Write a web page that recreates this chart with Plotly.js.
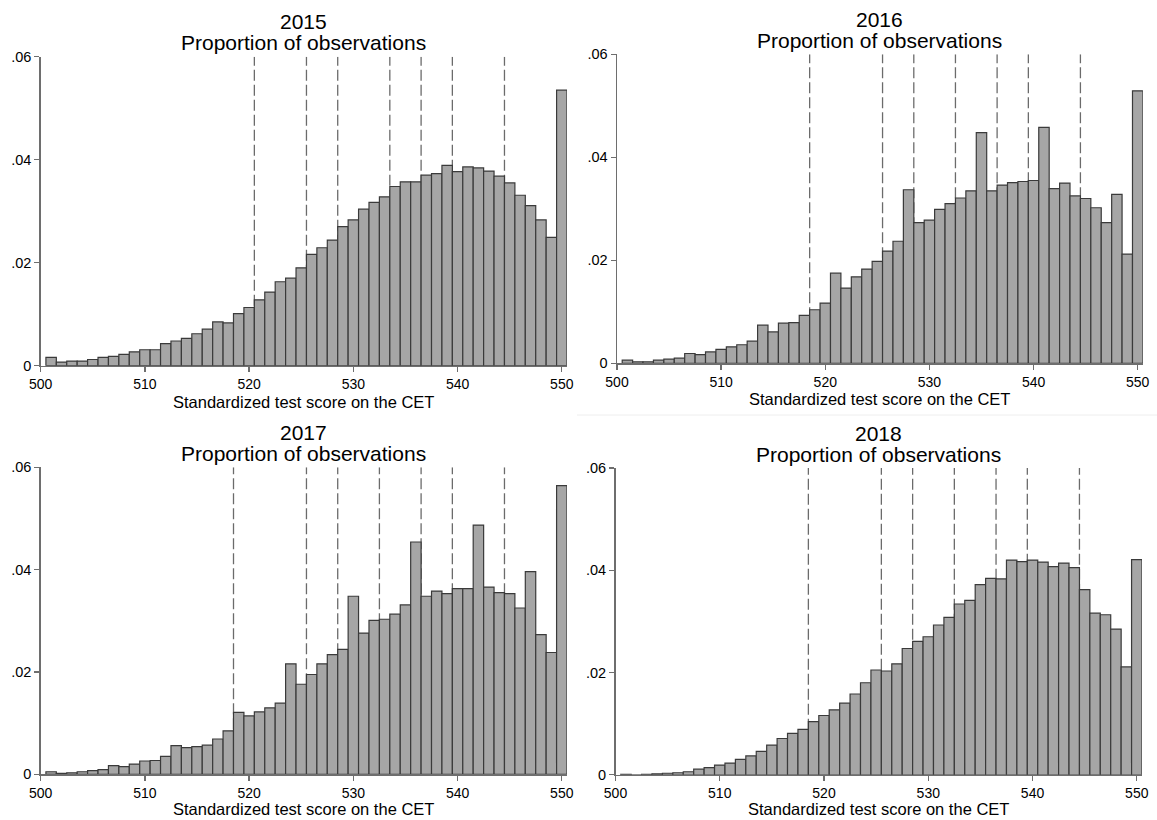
<!DOCTYPE html>
<html>
<head>
<meta charset="utf-8">
<script src="https://cdn.plot.ly/plotly-3.0.1.min.js"></script>
<style>html,body{margin:0;padding:0;background:#fff;}#chart{width:1157px;height:820px;}</style>
</head>
<body>
<div id="chart"></div>
<script>
const scores = [501,502,503,504,505,506,507,508,509,510,511,512,513,514,515,516,517,518,519,520,
                521,522,523,524,525,526,527,528,529,530,531,532,533,534,535,536,537,538,539,540,
                541,542,543,544,545,546,547,548,549,550];

const years = ["2015","2016","2017","2018"];

const share2015 = [0.0016,0.0007,0.0009,0.0009,0.0012,0.0016,0.0018,0.0022,0.0027,0.0031,
                   0.0031,0.0043,0.0048,0.0053,0.0062,0.0071,0.0085,0.0083,0.0101,0.0113,
                   0.0128,0.0143,0.0163,0.0170,0.0190,0.0216,0.0229,0.0244,0.0270,0.0283,
                   0.0304,0.0317,0.0328,0.0348,0.0357,0.0357,0.0370,0.0373,0.0389,0.0377,
                   0.0386,0.0384,0.0378,0.0368,0.0355,0.0331,0.0311,0.0283,0.0249,0.0535];

const share2016 = [0.0006,0.0003,0.0003,0.0006,0.0008,0.0010,0.0019,0.0017,0.0022,0.0027,
                   0.0032,0.0036,0.0043,0.0074,0.0061,0.0078,0.0079,0.0093,0.0104,0.0117,
                   0.0175,0.0146,0.0168,0.0183,0.0198,0.0218,0.0237,0.0337,0.0273,0.0278,
                   0.0299,0.0310,0.0321,0.0335,0.0448,0.0335,0.0346,0.0351,0.0353,0.0355,
                   0.0458,0.0339,0.0350,0.0325,0.0320,0.0302,0.0273,0.0328,0.0212,0.0529];

const share2017 = [0.0005,0.0002,0.0003,0.0005,0.0007,0.0009,0.0017,0.0015,0.0020,0.0026,
                   0.0027,0.0035,0.0056,0.0052,0.0054,0.0057,0.0069,0.0085,0.0121,0.0114,
                   0.0122,0.0130,0.0139,0.0216,0.0176,0.0195,0.0216,0.0234,0.0244,0.0348,
                   0.0276,0.0301,0.0303,0.0313,0.0331,0.0454,0.0348,0.0358,0.0353,0.0363,
                   0.0363,0.0487,0.0366,0.0355,0.0353,0.0325,0.0396,0.0273,0.0238,0.0564];

const share2018 = [0.0001,0.0000,0.0001,0.0002,0.0003,0.0004,0.0006,0.0011,0.0014,0.0019,
                   0.0023,0.0030,0.0037,0.0046,0.0058,0.0071,0.0081,0.0089,0.0104,0.0116,
                   0.0127,0.0140,0.0158,0.0180,0.0205,0.0203,0.0217,0.0247,0.0261,0.0270,
                   0.0293,0.0308,0.0334,0.0341,0.0372,0.0384,0.0383,0.0420,0.0417,0.0420,
                   0.0416,0.0407,0.0414,0.0405,0.0362,0.0316,0.0313,0.0285,0.0211,0.0421];

const cutoffs2015 = [520.5,525.5,528.5,533.5,536.5,539.5,544.5];
const cutoffs2016 = [518.5,525.5,528.5,532.5,536.5,539.5,544.5];
const cutoffs2017 = [518.5,525.5,528.5,532.5,536.5,539.5,544.5];
const cutoffs2018 = [518.5,525.5,528.5,532.5,536.5,539.5,544.5];

const xTickVals = [500,510,520,530,540,550];
const xTickText = ["500","510","520","530","540","550"];
const yTickVals = [0,0.02,0.04,0.06];
const yTickText = ["0",".02",".04",".06"];

const yTitle = "Proportion of observations";
const xTitle = "Standardized test score on the CET";

const shares = [share2015, share2016, share2017, share2018];
const cutoffs = [cutoffs2015, cutoffs2016, cutoffs2017, cutoffs2018];

// panel geometry in pixels [left, right, bottom, top, x-title centre]
const W = 1157, H = 820;
const panels = [
  [40.7, 567.0, 365.7, 56.7, 401.5],
  [617.0, 1142.9, 363.3, 54.3, 399],
  [40.7, 567.0, 774.3, 467.3, 809.3],
  [615.5, 1142.0, 774.8, 468.0, 809.3]
];

const FONT = '"Liberation Sans", Arial, Helvetica, sans-serif';
const traces = [];
const layout = {
  width: W, height: H,
  margin: {l:0, r:0, t:0, b:0},
  paper_bgcolor: '#ffffff',
  plot_bgcolor: '#ffffff',
  showlegend: false,
  bargap: 0,
  font: {family: FONT, color: '#000000'},
  annotations: [],
  shapes: [
    {type:'line', xref:'paper', yref:'paper', x0: 577/W, x1: 1, y0: 1-415/H, y1: 1-415/H,
     line:{color:'#eeeeee', width:1}}
  ]
};

for (let i = 0; i < 4; i++) {
  const sfx = i === 0 ? '' : String(i+1);
  const [l, r, b, t, xt] = panels[i];
  traces.push({
    type: 'bar',
    x: scores,
    y: shares[i],
    width: 1,
    xaxis: 'x' + sfx,
    yaxis: 'y' + sfx,
    marker: {color: '#a6a6a6', line: {color: '#3a3a3a', width: 1.2}},
    hoverinfo: 'x+y'
  });
  layout['xaxis' + sfx] = {
    domain: [l/W, r/W],
    range: [500, 550.5],
    anchor: 'y' + sfx,
    showgrid: false, zeroline: false,
    showline: true, linecolor: '#6e6e6e', linewidth: 1.5,
    ticks: 'outside', ticklen: 5, tickwidth: 1.3, tickcolor: '#6e6e6e',
    tickmode: 'array', tickvals: xTickVals, ticktext: xTickText,
    tickfont: {size: 14, family: FONT, color: '#000'}
  };
  layout['yaxis' + sfx] = {
    domain: [1 - b/H, 1 - t/H],
    range: [0, 0.06],
    anchor: 'x' + sfx,
    showgrid: false, zeroline: false,
    showline: true, linecolor: '#6e6e6e', linewidth: 1.5,
    ticks: 'outside', ticklen: 5, tickwidth: 1.3, tickcolor: '#6e6e6e',
    tickmode: 'array', tickvals: yTickVals, ticktext: yTickText,
    tickfont: {size: 14.5, family: FONT, color: '#000'}
  };
  const cx = (l + r) / 2 / W;
  layout.annotations.push({
    xref: 'paper', yref: 'paper', x: cx, y: 1 - (t - 35)/H,
    text: years[i], showarrow: false, xanchor: 'center', yanchor: 'middle',
    font: {size: 21, family: FONT, color: '#000'}
  });
  layout.annotations.push({
    xref: 'paper', yref: 'paper', x: cx, y: 1 - (t - 14)/H,
    text: yTitle, showarrow: false, xanchor: 'center', yanchor: 'middle',
    font: {size: 21, family: FONT, color: '#000'}
  });
  layout.annotations.push({
    xref: 'paper', yref: 'paper', x: cx, y: 1 - xt/H,
    text: xTitle, showarrow: false, xanchor: 'center', yanchor: 'middle',
    borderpad: 0,
    font: {size: 16.5, family: FONT, color: '#000'}
  });
  cutoffs[i].forEach(c => {
    layout.shapes.push({
      type: 'line', xref: 'x' + sfx, yref: 'y' + sfx,
      x0: c, x1: c, y0: 0, y1: 0.06, layer: 'below',
      line: {color: '#6b6b6b', width: 1.3, dash: '11px,4px'}
    });
  });
}

Plotly.newPlot('chart', traces, layout, {displayModeBar: false, staticPlot: true});
</script>
</body>
</html>
